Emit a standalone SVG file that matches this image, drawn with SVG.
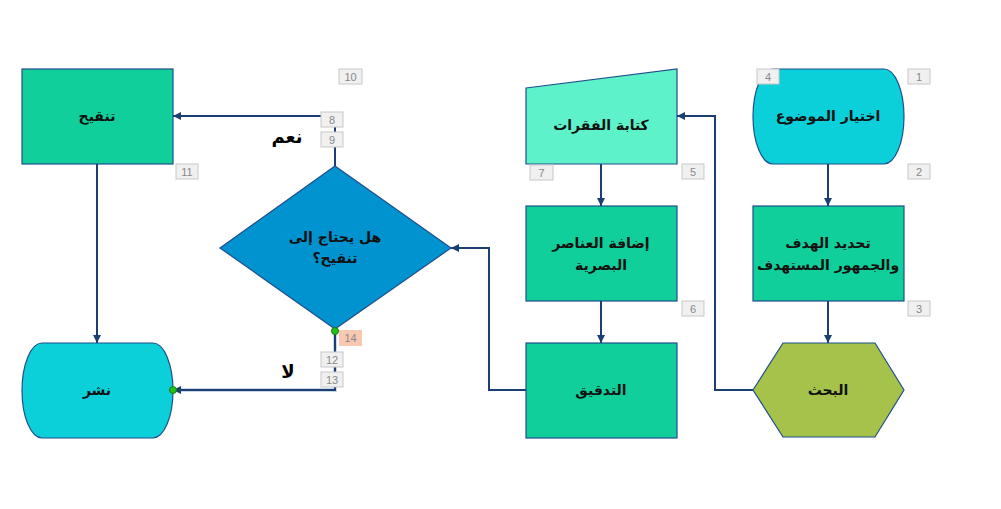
<svg xmlns="http://www.w3.org/2000/svg" width="1001" height="509" viewBox="0 0 1001 509">
<defs>
<marker id="arr" viewBox="0 0 10 10" refX="10" refY="5" markerWidth="4" markerHeight="4" orient="auto" markerUnits="strokeWidth">
<path d="M0,0 L10,5 L0,10 Z" fill="#1b3f73"/>
</marker>
<style>
.shape{stroke:#1f4e8c;stroke-width:1.2}
.term{fill:#0bcfd9}
.proc{fill:#11cf9b}
.manual{fill:#5df2c9}
.hex{fill:#a5c24a}
.dec{fill:#0093d0}
.lbl{font-family:"DejaVu Sans",sans-serif;font-weight:bold;font-size:14px;fill:#111;text-anchor:middle;direction:rtl}
.edge{fill:none;stroke:#1b3f73;stroke-width:2;marker-end:url(#arr)}
.num rect{fill:#f0f0f0;stroke:#c8c8c8;stroke-width:1}
.num text{font-family:"Liberation Sans",sans-serif;font-size:11px;fill:#888;text-anchor:middle}
.num .hl{fill:#f9c8b0;stroke:none}
.yn{font-family:"DejaVu Sans",sans-serif;font-weight:bold;font-size:18px;fill:#000;text-anchor:middle;direction:rtl}
.dot{fill:#22c01a;stroke:#1a7a10;stroke-width:1}
</style>
</defs>
<rect width="1001" height="509" fill="#ffffff"/>

<g id="connectors">
<path class="edge" d="M828,164 V206"/>
<path class="edge" d="M828,301 V343"/>
<path class="edge" d="M753,390 H715 V116 H677"/>
<path class="edge" d="M601,164 V206"/>
<path class="edge" d="M601,301 V343"/>
<path class="edge" d="M526,390 H489 V248 H451"/>
<path class="edge" d="M335,166 V116 H173"/>
<path fill="none" stroke="#c9d6e8" stroke-width="4" d="M335,330 V390 H173"/>
<path class="edge" d="M335,330 V390 H173"/>
<path class="edge" d="M97,164 V343"/>
</g>

<g id="node1">
<path class="shape term" d="M773,69 H884 A20,47.5 0 0 1 884,164 H773 A20,47.5 0 0 1 773,69 Z"/>
<text class="lbl" x="828" y="121">اختيار الموضوع</text>
</g>
<g id="node2">
<rect class="shape proc" x="753" y="206" width="151" height="95"/>
<text class="lbl" x="828" y="248">تحديد الهدف</text>
<text class="lbl" x="828" y="270">والجمهور المستهدف</text>
</g>
<g id="node3">
<polygon class="shape hex" points="753,390 783,343 875,343 904,390 875,437 783,437"/>
<text class="lbl" x="828" y="395">البحث</text>
</g>
<g id="node5">
<polygon class="shape manual" points="526,88 677,69 677,164 526,164"/>
<text class="lbl" x="601" y="130">كتابة الفقرات</text>
</g>
<g id="node6">
<rect class="shape proc" x="526" y="206" width="151" height="95"/>
<text class="lbl" x="601" y="248">إضافة العناصر</text>
<text class="lbl" x="601" y="270">البصرية</text>
</g>
<g id="node7">
<rect class="shape proc" x="526" y="343" width="151" height="95"/>
<text class="lbl" x="601" y="395">التدقيق</text>
</g>
<g id="node8">
<polygon class="shape dec" points="335,166 451,248 335,329 220,248"/>
<text class="lbl" x="335" y="242">هل يحتاج إلى</text>
<text class="lbl" x="335" y="263">تنقيح؟</text>
</g>
<g id="node9">
<rect class="shape proc" x="22" y="69" width="151" height="95"/>
<text class="lbl" x="97" y="121">تنقيح</text>
</g>
<g id="node10">
<path class="shape term" d="M42,343 H153 A20,47.5 0 0 1 153,438 H42 A20,47.5 0 0 1 42,343 Z"/>
<text class="lbl" x="97" y="395">نشر</text>
</g>

<g id="labels">
<text class="yn" x="287" y="143">نعم</text>
<text class="yn" x="288" y="378">لا</text>
</g>

<g id="markers">
<circle class="dot" cx="335" cy="331" r="3.5"/>
<circle class="dot" cx="173" cy="390" r="3.5"/>
</g>

<g id="numbers" class="num">
<rect x="908" y="69" width="22" height="15"/><text x="919" y="80.5">1</text>
<rect x="908" y="164" width="22" height="15"/><text x="919" y="175.5">2</text>
<rect x="908" y="301" width="22" height="15"/><text x="919" y="312.5">3</text>
<rect x="757" y="69" width="22" height="15"/><text x="768" y="80.5">4</text>
<rect x="682" y="164" width="22" height="15"/><text x="693" y="175.5">5</text>
<rect x="682" y="301" width="22" height="15"/><text x="693" y="312.5">6</text>
<rect x="530" y="165" width="23" height="15"/><text x="541.5" y="176.5">7</text>
<rect x="321" y="112" width="22" height="15"/><text x="332" y="123.5">8</text>
<rect x="321" y="132" width="22" height="15"/><text x="332" y="143.5">9</text>
<rect x="339" y="69" width="23" height="15"/><text x="350.5" y="80.5">10</text>
<rect x="176" y="164" width="22" height="15"/><text x="187" y="175.5">11</text>
<rect x="321" y="352" width="22" height="15"/><text x="332" y="363.5">12</text>
<rect x="321" y="372" width="22" height="15"/><text x="332" y="383.5">13</text>
<rect class="hl" x="339" y="330" width="23" height="16"/><text x="350.5" y="342">14</text>
</g>
</svg>
